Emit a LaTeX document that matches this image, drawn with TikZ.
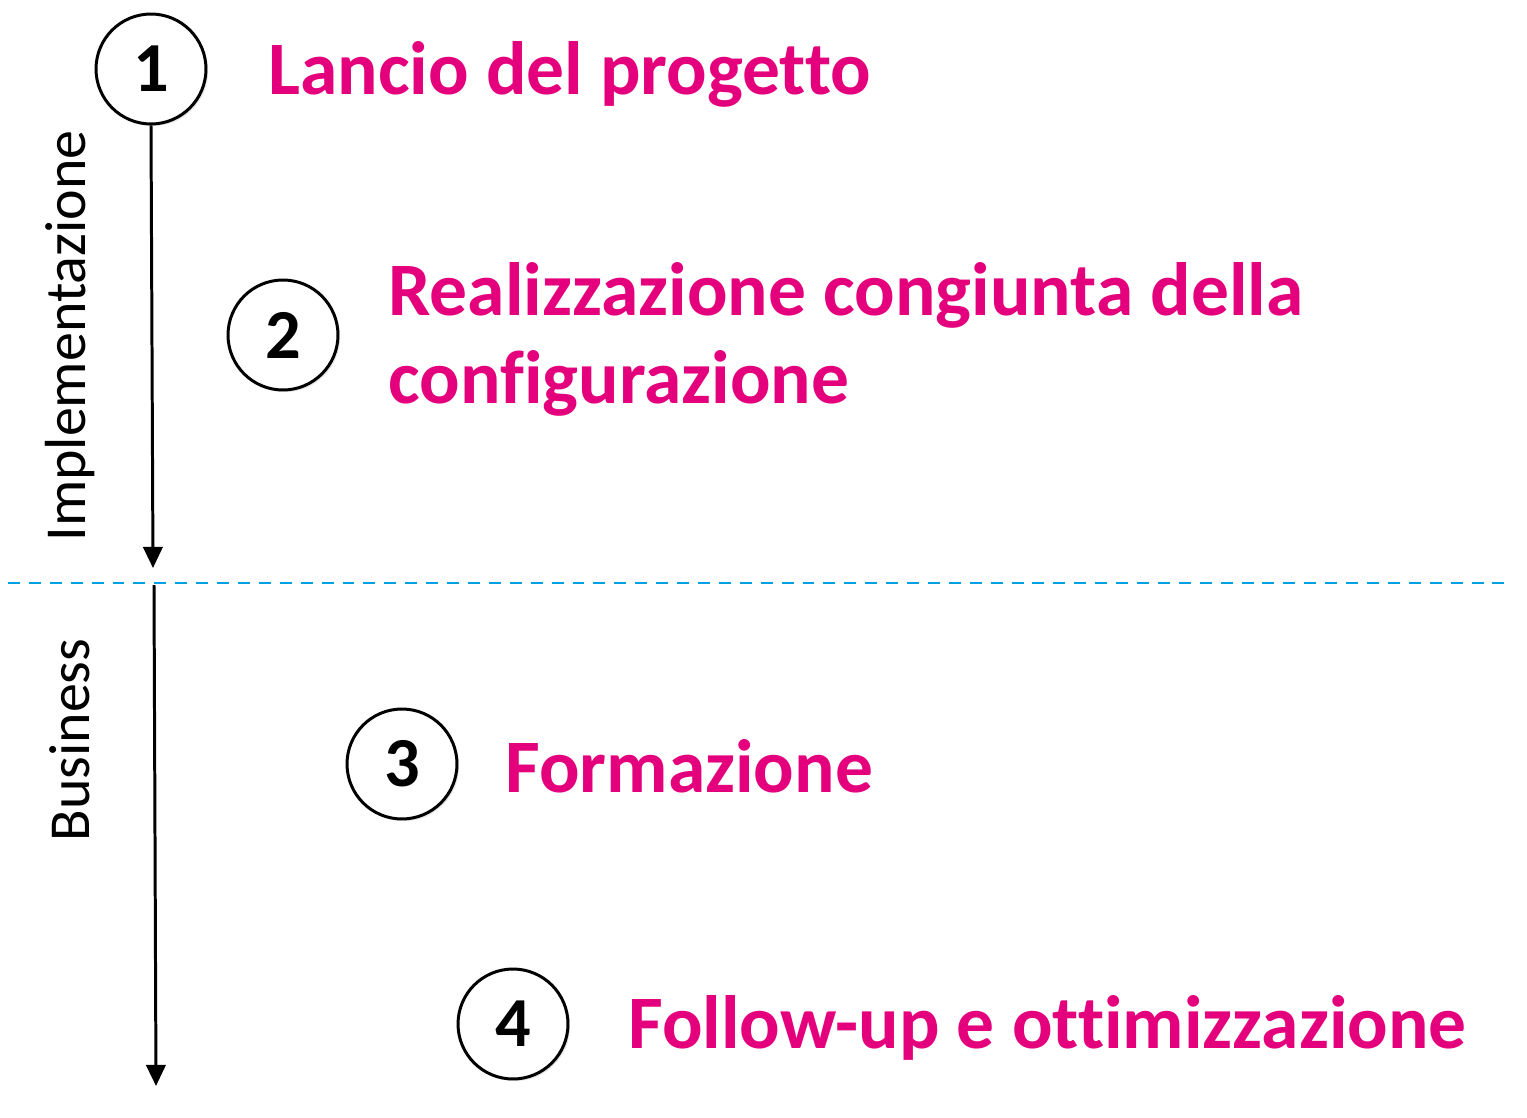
\documentclass[tikz,border=0pt]{standalone}
\usepackage{fontspec}
\setmainfont{Carlito}[Ligatures=NoCommon]
\usetikzlibrary{arrows.meta,shadows}
\definecolor{magenta}{RGB}{228,0,124}
\definecolor{skyblue}{RGB}{0,160,228}
\begin{document}
\begin{tikzpicture}[x=0.02cm,y=-0.02cm,>={Triangle[width=11pt,length=12pt]},
  num/.style={draw,circle,line width=1.7pt,fill=white,minimum size=2.2cm,inner sep=0pt,
    font=\fontsize{40}{40}\selectfont\bfseries,
    drop shadow={opacity=0.2,shadow xshift=1.2pt,shadow yshift=-1.2pt}},
  lab/.style={anchor=base west,text=magenta,align=left,inner sep=0pt,
    font=\fontsize{43}{50}\selectfont\bfseries},
  side/.style={rotate=90,inner sep=0pt,font=\fontsize{33}{33}\selectfont}]
\useasboundingbox (0,0) rectangle (1527,1118);

% phases
\draw[skyblue,line width=1.7pt,dash pattern=on 6.8pt off 5.1pt] (8,583)--(1508,583);
\node[side] (impl) at (70,336) {Implementazione};
\node[side] (bus) at (70,740) {Business};

% steps
\node[num] (c1) at (151,69) {1};
\node[num] (c2) at (283,335) {2};
\node[num] (c3) at (402,764) {3};
\node[num] (c4) at (513,1024) {4};

\node[lab] (l1) at (268,95) {Lancio del progetto};
\node[lab] (l2) at (388,403) {Realizzazione congiunta della\\configurazione};
\node[lab] (l3) at (505,792) {Formazione};
\node[lab] (l4) at (628,1048) {Follow-up e ottimizzazione};

% time arrows
\coordinate (e1) at (153,568);
\coordinate (s2) at (154,585);
\coordinate (e2) at (156,1086);
\draw[->,line width=1.7pt] (c1.south)--(e1);
\draw[->,line width=1.7pt] (s2)--(e2);
\end{tikzpicture}
\end{document}
